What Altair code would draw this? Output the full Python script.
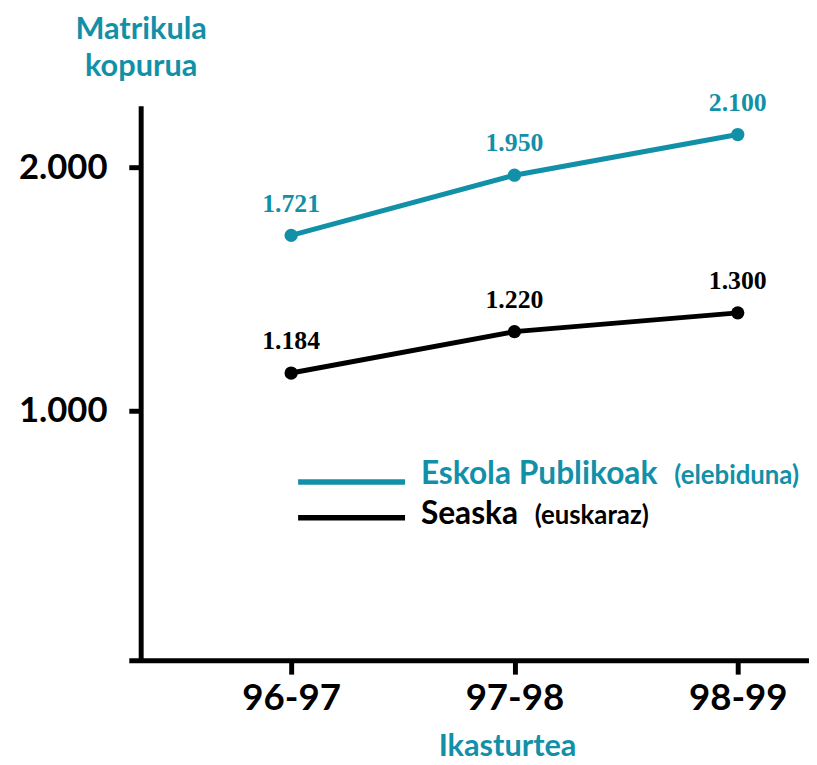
import altair as alt
import pandas as pd

# ---- data ----
years = ["96-97", "97-98", "98-99"]
series = ["Eskola Publikoak", "Seaska"]
series_notes = ["(elebiduna)", "(euskaraz)"]
eskola_values = [1720, 1967, 2134]
seaska_values = [1155, 1325, 1402]
eskola_labels = ["1.721", "1.950", "2.100"]
seaska_labels = ["1.184", "1.220", "1.300"]
y_ticks = [1000, 2000]

TEAL = "#1290a8"
colors = [TEAL, "#000000"]

rows = []
for s, vals, labs in [(series[0], eskola_values, eskola_labels),
                      (series[1], seaska_values, seaska_labels)]:
    for yr, v, l in zip(years, vals, labs):
        rows.append({"year": yr, "series": s, "value": v, "label": l})
df = pd.DataFrame(rows)

x = alt.X(
    "year:N", sort=years,
    scale=alt.Scale(type="point", domain=years, padding=0.523, align=0.695),
    axis=alt.Axis(
        title="Ikasturtea", titleFont="Lato", titleFontSize=31, titleFontWeight="bold",
        titleColor=TEAL, titleX=382, titleY=96, titleAlign="center", titleBaseline="alphabetic",
        titleAnchor="start",
        labelFont="Lato", labelFontSize=37, labelFontWeight="bold", labelColor="black",
        labelBaseline="alphabetic", labelPadding=36, labelAngle=0,
        tickSize=14, tickWidth=5, tickColor="black",
        domainWidth=5, domainColor="black", grid=False,
    ),
)
y = alt.Y(
    "value:Q",
    scale=alt.Scale(domain=[-24, 2252], nice=False, zero=False),
    axis=alt.Axis(
        values=y_ticks,
        labelExpr="replace(format(datum.value, ','), ',', '.')",
        title=["Matrikula", "kopurua"], titleAngle=0, titleX=0, titleY=-68,
        titleAlign="center", titleBaseline="alphabetic", titleLineHeight=37,
        titleFont="Lato", titleFontSize=31, titleFontWeight="bold", titleColor=TEAL,
        offset=-12, tickSize=12, tickWidth=5, tickColor="black",
        domainWidth=5, domainColor="black",
        labelPadding=22, labelFont="Lato", labelFontSize=35, labelFontWeight="bold",
        labelColor="black", grid=False,
    ),
)
color = alt.Color("series:N", scale=alt.Scale(domain=series, range=colors), legend=None)

base = alt.Chart(df).encode(x=x, y=y, color=color)
lines = base.mark_line(strokeWidth=5)
points = base.mark_circle(size=180, opacity=1)
labels = base.mark_text(
    font="Liberation Serif", fontSize=26, fontWeight="bold", dy=-24, baseline="alphabetic"
).encode(text="label:N")

# ---- manual legend ----
legend_layers = []
leg_line_y = [380, 416]
leg_text_y = [382, 422]
note_x = [551, 410]
for i, s in enumerate(series):
    d = pd.DataFrame({"series": [s], "note": [series_notes[i]]})
    legend_layers.append(
        alt.Chart(d).mark_rule(strokeWidth=5.5, color=colors[i]).encode(
            x=alt.value(171), x2=alt.value(279), y=alt.value(leg_line_y[i])
        )
    )
    legend_layers.append(
        alt.Chart(d).mark_text(
            font="Lato", fontSize=32, fontWeight="bold", align="left",
            baseline="alphabetic", color=colors[i]
        ).encode(x=alt.value(295), y=alt.value(leg_text_y[i]), text="series:N")
    )
    legend_layers.append(
        alt.Chart(d).mark_text(
            font="Lato", fontSize=26, fontWeight="bold", align="left",
            baseline="alphabetic", color=colors[i]
        ).encode(x=alt.value(note_x[i]), y=alt.value(leg_text_y[i]), text="note:N")
    )

chart = alt.layer(lines, points, labels, *legend_layers).properties(
    width=687, height=560,
    autosize=alt.AutoSizeParams(type="none"),
    padding={"left": 122, "top": 95, "right": 0, "bottom": 102},
    background="white",
).configure_view(stroke=None)

chart.save("out.html", embed_options={"renderer": "svg", "actions": False})
